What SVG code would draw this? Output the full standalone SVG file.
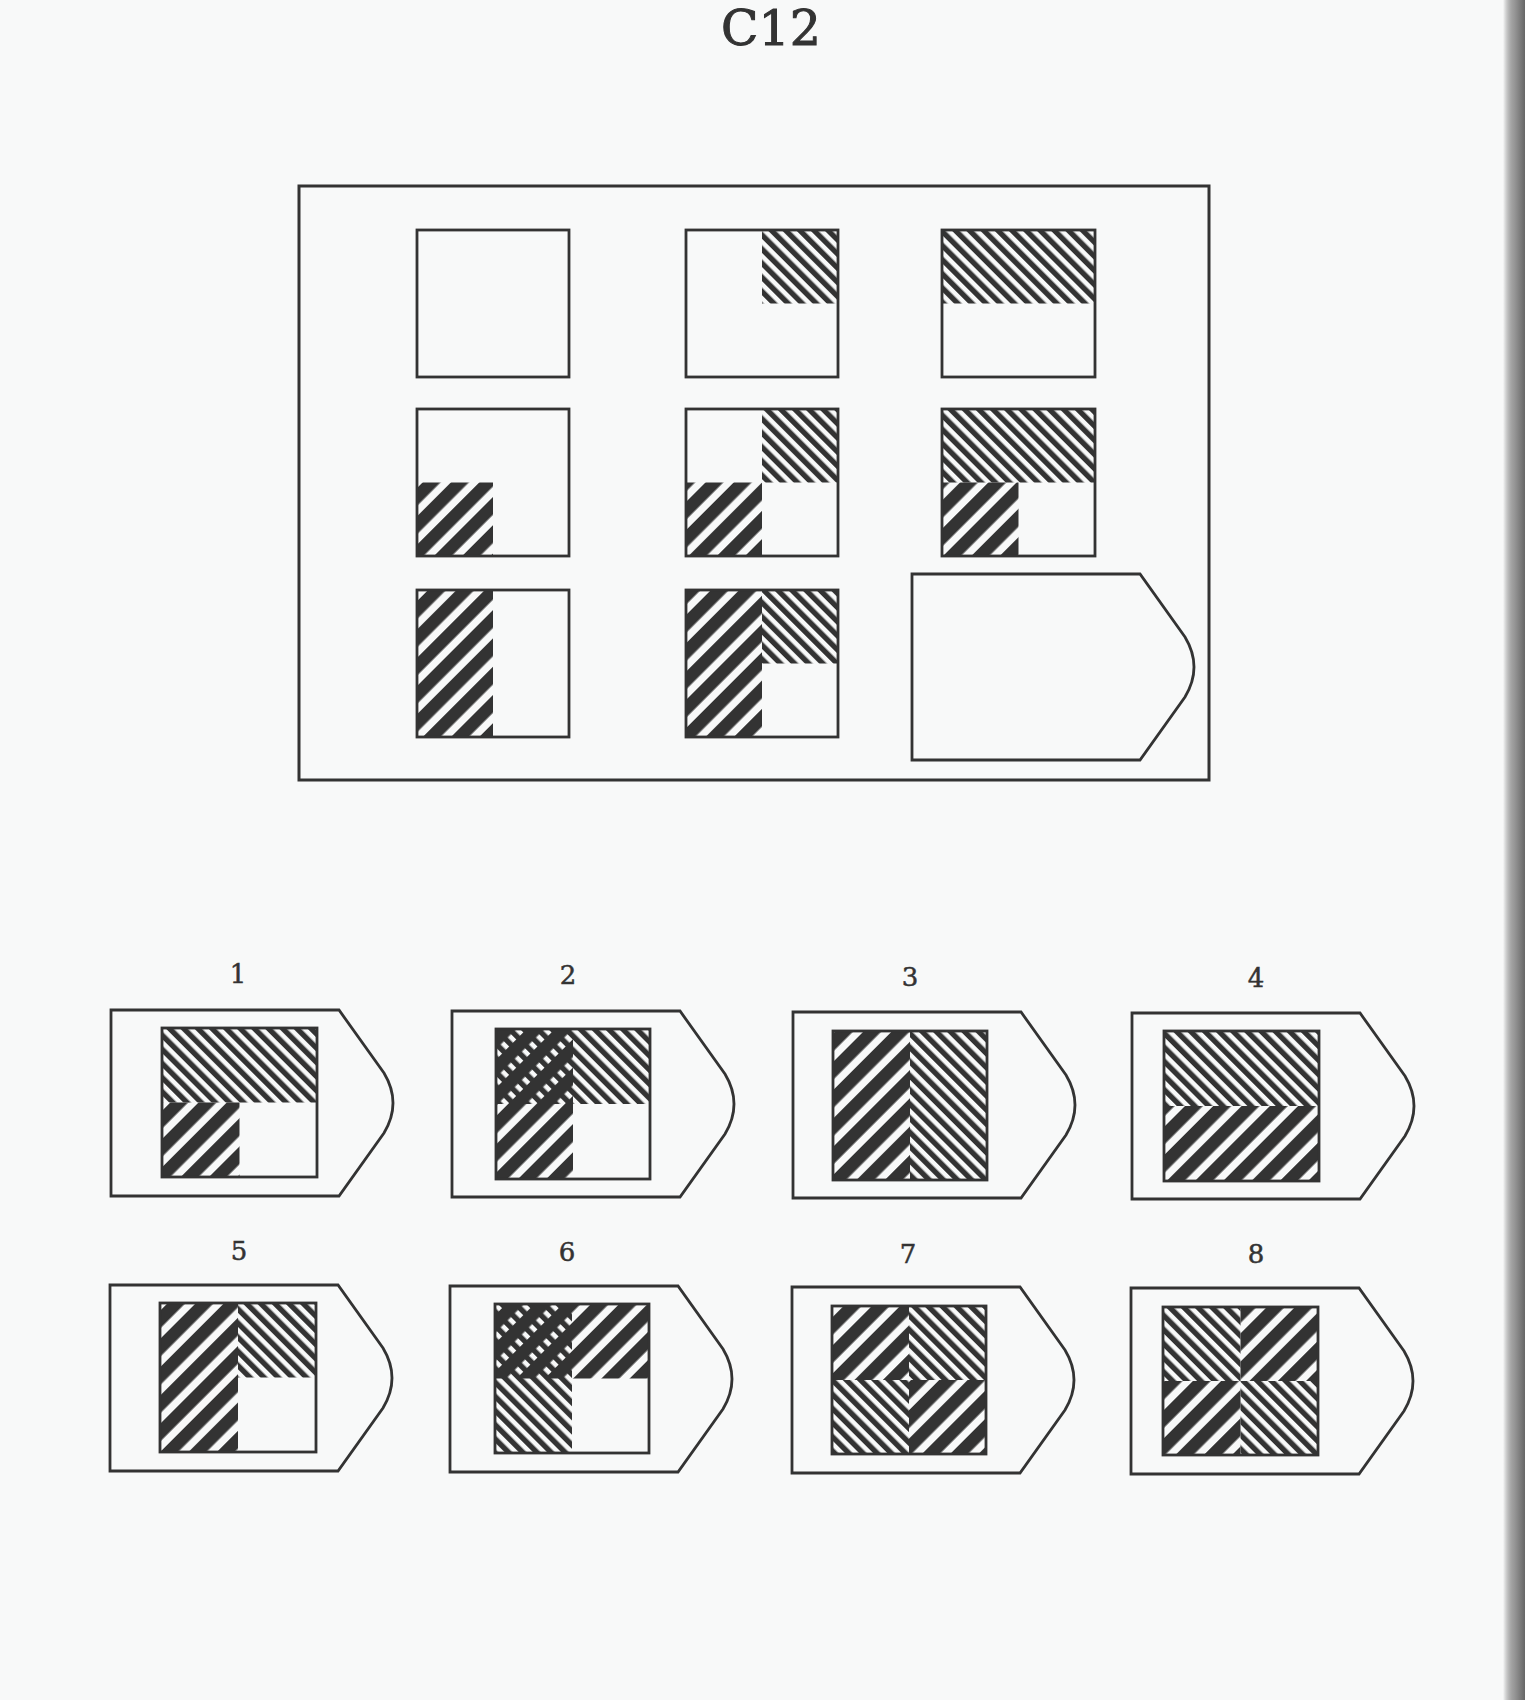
<svg xmlns="http://www.w3.org/2000/svg" width="1525" height="1700" viewBox="0 0 1525 1700">
<defs>
<style>
.ink{fill:none;stroke:#333;stroke-width:3}
.box{fill:none;stroke:#333;stroke-width:2.8}
.w{fill:#f8f9f9}
.t{fill:url(#thin)}
.k{fill:url(#thick)}
.lbl{font-family:"DejaVu Serif","Liberation Serif",serif;font-size:26px;fill:#333;stroke:#333;stroke-width:0.5;text-anchor:middle}
</style>
<pattern id="thin" patternUnits="userSpaceOnUse" width="10" height="10" patternTransform="rotate(-45)"><rect width="5.4" height="10" fill="#333"/></pattern>
<pattern id="thick" patternUnits="userSpaceOnUse" width="20" height="20" patternTransform="rotate(45)"><rect width="12.6" height="20" fill="#333"/></pattern>
<path id="tag" d="M0,0 H228 L273,63 Q291,93 273,123 L228,186 H0 Z"/>
<linearGradient id="edge" x1="0" x2="1" y1="0" y2="0">
<stop offset="0" stop-color="#555" stop-opacity="0"/>
<stop offset="0.5" stop-color="#999" stop-opacity="1"/>
<stop offset="1" stop-color="#666" stop-opacity="1"/>
</linearGradient>
</defs>
<rect width="1525" height="1700" fill="#f8f9f9"/>
<rect x="1503" y="0" width="22" height="1700" fill="url(#edge)"/>
<text x="771" y="45" font-family="DejaVu Serif, Liberation Serif, serif" font-size="49" fill="#333" stroke="#333" stroke-width="1" text-anchor="middle">C12</text>

<g id="matrix">
<rect class="ink" x="299" y="186" width="910" height="594"/>
<g id="cell11"><rect class="box w" x="417" y="230" width="152" height="147"/></g>
<g id="cell12"><rect class="w" x="686" y="230" width="152" height="147"/><rect class="t" x="762" y="230" width="76" height="73.5"/><rect class="box" x="686" y="230" width="152" height="147"/></g>
<g id="cell13"><rect class="w" x="942" y="230" width="153" height="147"/><rect class="t" x="942" y="230" width="153" height="73.5"/><rect class="box" x="942" y="230" width="153" height="147"/></g>
<g id="cell21"><rect class="w" x="417" y="409" width="152" height="147"/><rect class="k" x="417" y="482.5" width="76" height="73.5"/><rect class="box" x="417" y="409" width="152" height="147"/></g>
<g id="cell22"><rect class="w" x="686" y="409" width="152" height="147"/><rect class="t" x="762" y="409" width="76" height="73.5"/><rect class="k" x="686" y="482.5" width="76" height="73.5"/><rect class="box" x="686" y="409" width="152" height="147"/></g>
<g id="cell23"><rect class="w" x="942" y="409" width="153" height="147"/><rect class="t" x="942" y="409" width="153" height="73.5"/><rect class="k" x="942" y="482.5" width="76.5" height="73.5"/><rect class="box" x="942" y="409" width="153" height="147"/></g>
<g id="cell31"><rect class="w" x="417" y="590" width="152" height="147"/><rect class="k" x="417" y="590" width="76" height="147"/><rect class="box" x="417" y="590" width="152" height="147"/></g>
<g id="cell32"><rect class="w" x="686" y="590" width="152" height="147"/><rect class="k" x="686" y="590" width="76" height="147"/><rect class="t" x="762" y="590" width="76" height="73.5"/><rect class="box" x="686" y="590" width="152" height="147"/></g>
<g id="cell33"><use href="#tag" class="box w" transform="translate(912,574)"/></g>
</g>

<g id="option1">
<text class="lbl" x="238" y="983">1</text>
<use href="#tag" class="box" transform="translate(111,1010)"/>
<rect class="w" x="162" y="1028" width="155" height="149"/>
<rect class="t" x="162" y="1028" width="155" height="74.5"/>
<rect class="k" x="162" y="1102.5" width="77.5" height="74.5"/>
<rect class="box" x="162" y="1028" width="155" height="149"/>
</g>
<g id="option2">
<text class="lbl" x="568" y="984">2</text>
<use href="#tag" class="box" transform="translate(452,1011)"/>
<rect class="w" x="496" y="1029" width="154" height="150"/>
<rect class="t" x="496" y="1029" width="154" height="75"/>
<rect class="k" x="496" y="1029" width="77" height="150"/>
<rect class="box" x="496" y="1029" width="154" height="150"/>
</g>
<g id="option3">
<text class="lbl" x="910" y="986">3</text>
<use href="#tag" class="box" transform="translate(793,1012)"/>
<rect class="w" x="833" y="1031" width="154" height="149"/>
<rect class="k" x="833" y="1031" width="77" height="149"/>
<rect class="t" x="910" y="1031" width="77" height="149"/>
<rect class="box" x="833" y="1031" width="154" height="149"/>
</g>
<g id="option4">
<text class="lbl" x="1256" y="987">4</text>
<use href="#tag" class="box" transform="translate(1132,1013)"/>
<rect class="w" x="1164" y="1031" width="155" height="150"/>
<rect class="t" x="1164" y="1031" width="155" height="75"/>
<rect class="k" x="1164" y="1106" width="155" height="75"/>
<rect class="box" x="1164" y="1031" width="155" height="150"/>
</g>
<g id="option5">
<text class="lbl" x="239" y="1260">5</text>
<use href="#tag" class="box" transform="translate(110,1285)"/>
<rect class="w" x="160" y="1303" width="156" height="149"/>
<rect class="k" x="160" y="1303" width="78" height="149"/>
<rect class="t" x="238" y="1303" width="78" height="74.5"/>
<rect class="box" x="160" y="1303" width="156" height="149"/>
</g>
<g id="option6">
<text class="lbl" x="567" y="1261">6</text>
<use href="#tag" class="box" transform="translate(450,1286)"/>
<rect class="w" x="495" y="1304" width="154" height="149"/>
<rect class="k" x="495" y="1304" width="154" height="74.5"/>
<rect class="t" x="495" y="1304" width="77" height="149"/>
<rect class="box" x="495" y="1304" width="154" height="149"/>
</g>
<g id="option7">
<text class="lbl" x="908" y="1263">7</text>
<use href="#tag" class="box" transform="translate(792,1287)"/>
<rect class="w" x="832" y="1306" width="154" height="148"/>
<rect class="k" x="832" y="1306" width="77" height="74"/>
<rect class="t" x="909" y="1306" width="77" height="74"/>
<rect class="t" x="832" y="1380" width="77" height="74"/>
<rect class="k" x="909" y="1380" width="77" height="74"/>
<rect class="box" x="832" y="1306" width="154" height="148"/>
</g>
<g id="option8">
<text class="lbl" x="1256" y="1263">8</text>
<use href="#tag" class="box" transform="translate(1131,1288)"/>
<rect class="w" x="1163" y="1307" width="155" height="148"/>
<rect class="t" x="1163" y="1307" width="77.5" height="74"/>
<rect class="k" x="1240.5" y="1307" width="77.5" height="74"/>
<rect class="k" x="1163" y="1381" width="77.5" height="74"/>
<rect class="t" x="1240.5" y="1381" width="77.5" height="74"/>
<rect class="box" x="1163" y="1307" width="155" height="148"/>
</g>
<g id="connectors"/>
</svg>
